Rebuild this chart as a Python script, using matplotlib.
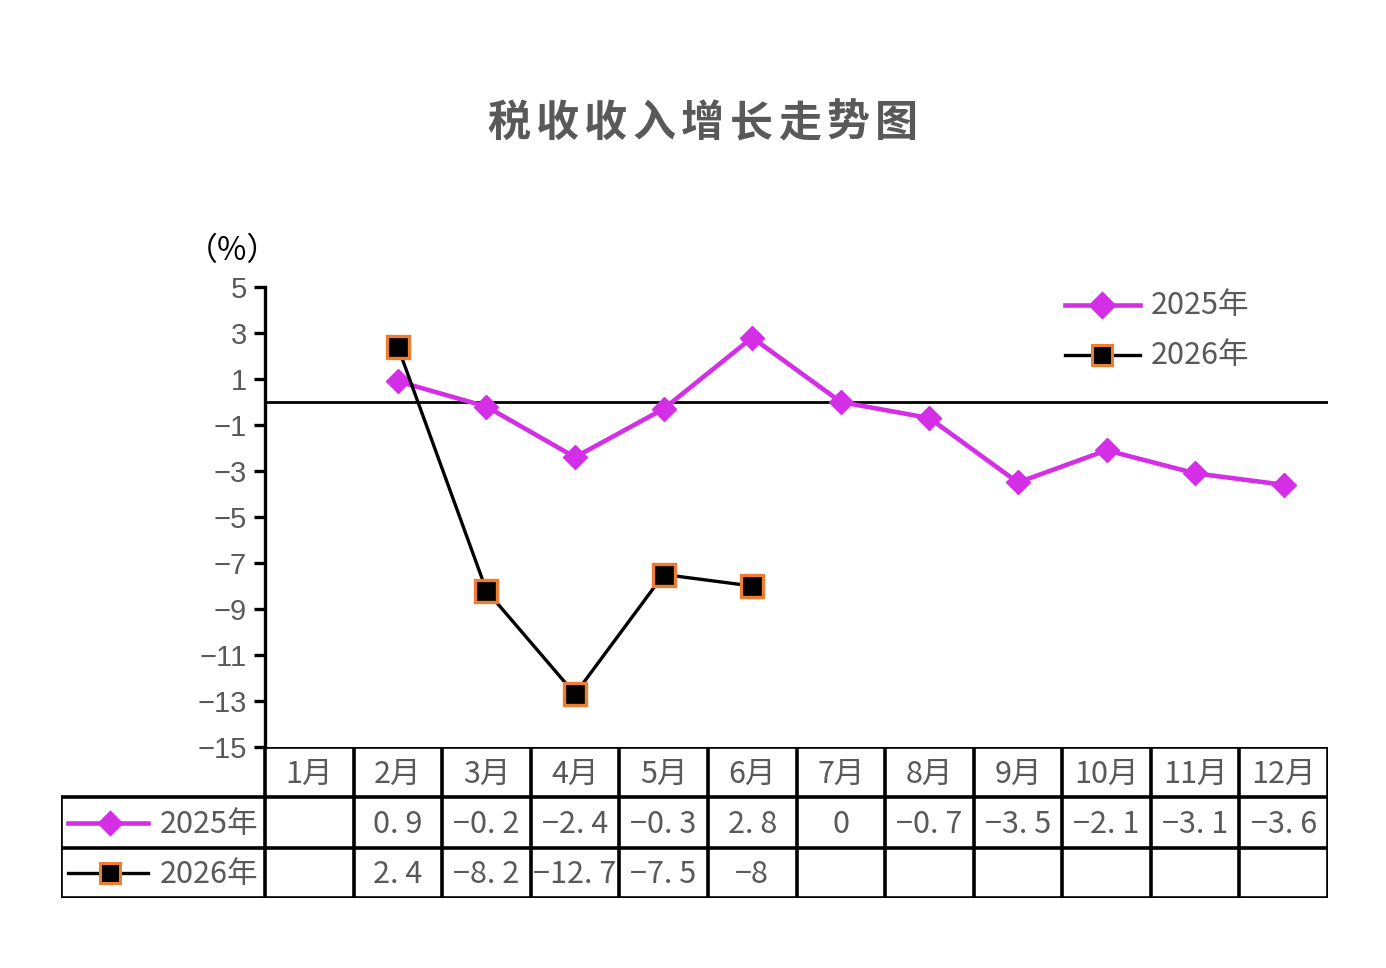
import matplotlib
matplotlib.use("Agg")
import matplotlib.pyplot as plt
import numpy as np

months = ["1月", "2月", "3月", "4月", "5月", "6月", "7月", "8月", "9月", "10月", "11月", "12月"]
s2025 = [None, 0.9, -0.2, -2.4, -0.3, 2.8, 0, -0.7, -3.5, -2.1, -3.1, -3.6]
s2026 = [None, 2.4, -8.2, -12.7, -7.5, -8, None, None, None, None, None, None]
series_names = ["2025年", "2026年"]
yticks = [5, 3, 1, -1, -3, -5, -7, -9, -11, -13, -15]
title = "税收收入增长走势图"
unit = "（%）"

C25 = "#D42EE6"
C26 = "#000000"
EDGE26 = "#ED7D31"
GREY = "#595959"
CJK = ["Noto Sans CJK SC", "DejaVu Sans"]

W, H = 1386, 968
fig = plt.figure(figsize=(W / 100, H / 100), dpi=100)

def fx(px):
    return px / W

def fy(py):
    return 1 - py / H

ax_l, ax_r, ax_t, ax_b = 265, 1328, 287, 747
ax = fig.add_axes([fx(ax_l), fy(ax_b), fx(ax_r - ax_l), fy(ax_t) - fy(ax_b)])
n = len(months)
x = np.arange(n)
ax.set_xlim(-0.5, n - 0.5)
ax.set_ylim(-15, 5)

def to_arr(v):
    return np.array([np.nan if a is None else a for a in v], dtype=float)

y25 = to_arr(s2025)
y26 = to_arr(s2026)

LW25, LW26 = 3.3, 2.4
ax.axhline(0, color="black", lw=2.0, zorder=1)
ax.plot(x, y25, color=C25, lw=LW25, marker="D", ms=12, mec=C25, mfc=C25, zorder=3)
ax.plot(x, y26, color=C26, lw=LW26, marker="s", ms=16.5, mfc="black", mec=EDGE26, mew=2.4, zorder=4)

for s in ["top", "right", "bottom"]:
    ax.spines[s].set_visible(False)
ax.spines["left"].set_linewidth(2.4)
ax.spines["left"].set_color("black")
ax.set_xticks([])
ax.set_yticks(yticks)
ax.set_yticklabels([f"{t}".replace("-", "\u2212") for t in yticks],
                   fontfamily="Liberation Sans", fontsize=21, color=GREY)
ax.tick_params(axis="y", direction="out", length=8, width=2.4, color="black", pad=5)

# legend (manual, to match position)
leg_items = [(series_names[0], C25, "D", 12, C25, C25, LW25, 305),
             (series_names[1], C26, "s", 15, "black", EDGE26, LW26, 355)]
for name, c, m, ms, mfc, mec, lw, py in leg_items:
    fig.add_artist(plt.Line2D([fx(1065), fx(1140)], [fy(py), fy(py)], color=c, lw=lw,
                              transform=fig.transFigure))
    fig.add_artist(plt.Line2D([fx(1102)], [fy(py)], marker=m, ms=ms, mfc=mfc, mec=mec,
                              mew=2.2, color=c, transform=fig.transFigure, lw=0))
    fig.text(fx(1151), fy(py + 1), name, fontfamily=CJK, fontsize=22, color=GREY,
             va="center", ha="left")

# title with wide letter spacing
t_left, t_right = 509, 896
for k, ch in enumerate(title):
    cx = t_left + (t_right - t_left) * k / (len(title) - 1)
    fig.text(fx(cx), fy(123), ch, fontfamily=CJK, fontsize=31, color=GREY,
             ha="center", va="center", fontweight="bold")
fig.text(fx(233), fy(251), unit, fontfamily=CJK, fontsize=23, color="black",
         ha="center", va="center")

# table
tl, tr, tt, tb = 61, 1328, 747, 898
tax = fig.add_axes([fx(tl), fy(tb), fx(tr - tl), fy(tt) - fy(tb)])
unit_px = (ax_r - ax_l) / n
left_x = -0.5 - (ax_l - tl) / unit_px
tax.set_xlim(left_x, n - 0.5)
tax.set_ylim(0, 3)
tax.axis("off")
lwT = 2.6
tax.plot([-0.5, n - 0.5], [3, 3], color="black", lw=lwT, solid_capstyle="projecting")
for yy in [2, 1, 0]:
    tax.plot([left_x, n - 0.5], [yy, yy], color="black", lw=lwT, solid_capstyle="projecting")
for i in range(n + 1):
    tax.plot([i - 0.5, i - 0.5], [0, 3], color="black", lw=lwT, solid_capstyle="projecting")
tax.plot([left_x, left_x], [0, 2], color="black", lw=lwT, solid_capstyle="projecting")

for i, mname in enumerate(months):
    tax.text(i, 2.45, mname, fontfamily=CJK, fontsize=22, color=GREY, ha="center", va="center")

def fmt(v):
    if v is None:
        return ""
    s = f"{v:g}".replace("-", "\u2212")
    return s.replace(".", ". ")

for row, vals in [(1.47, s2025), (0.47, s2026)]:
    for i, v in enumerate(vals):
        tax.text(i, row, fmt(v), fontfamily=CJK, fontsize=22, color=GREY,
                 ha="center", va="center")

lab_items = [(series_names[0], C25, "D", 11, C25, C25, LW25, 1.5),
             (series_names[1], C26, "s", 14, "black", EDGE26, LW26, 0.5)]
x_line0 = left_x + (68 - tl) / unit_px
x_line1 = left_x + (148 - tl) / unit_px
x_mark = left_x + (110 - tl) / unit_px
x_text = left_x + (160 - tl) / unit_px
for name, c, m, ms, mfc, mec, lw, ry in lab_items:
    tax.plot([x_line0, x_line1], [ry, ry], color=c, lw=lw)
    tax.plot([x_mark], [ry], marker=m, ms=ms, mfc=mfc, mec=mec, mew=2.2, lw=0)
    tax.text(x_text, ry - 0.03, name, fontfamily=CJK, fontsize=22, color=GREY, ha="left", va="center")

fig.savefig("out.png", dpi=100, facecolor="white")
